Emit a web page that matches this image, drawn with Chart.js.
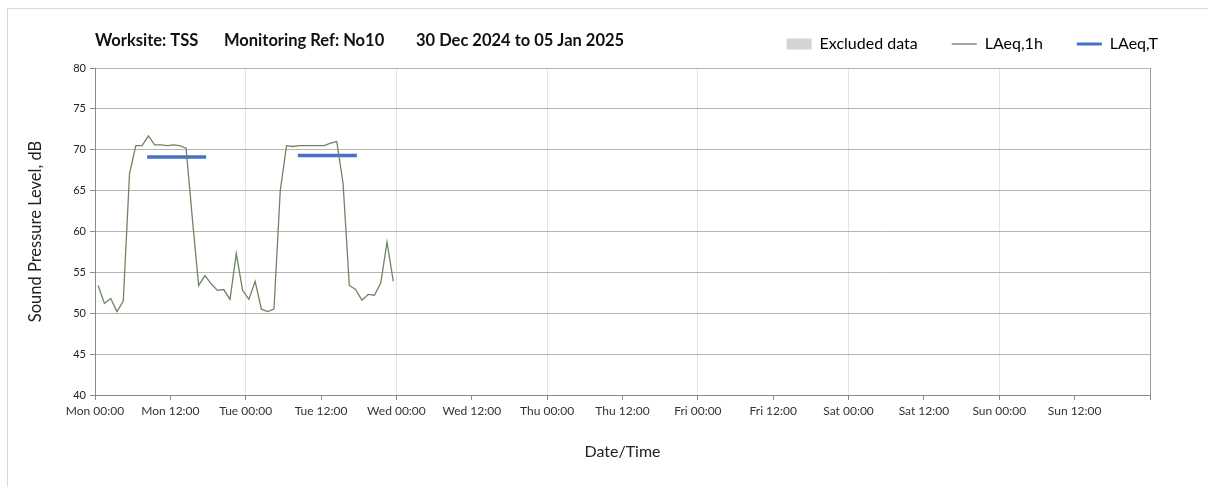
<!DOCTYPE html>
<html>
<head>
<meta charset="utf-8">
<script src="https://cdn.jsdelivr.net/npm/chart.js@4.4.1/dist/chart.umd.min.js"></script>
<style>
  html, body { margin: 0; padding: 0; background: #fff; }
  #wrap { position: relative; width: 1208px; height: 487px; }
  #frame { position: absolute; left: 7px; top: 8px; right: 0; bottom: -2px; border-left: 1px solid #d9d9d9; border-top: 1px solid #d9d9d9; }
  canvas { position: absolute; left: 0; top: 0; }
</style>
</head>
<body>
<div id="wrap">
  <div id="frame"></div>
  <canvas id="myChart" width="1208" height="487"></canvas>
</div>
<script>
// hours since Mon 00:00 (hourly LAeq, plotted at mid-hour)
var hours = [0.5, 1.5, 2.5, 3.5, 4.5, 5.5, 6.5, 7.5, 8.5, 9.5, 10.5, 11.5,
             12.5, 13.5, 14.5, 15.5, 16.5, 17.5, 18.5, 19.5, 20.5, 21.5, 22.5, 23.5,
             24.5, 25.5, 26.5, 27.5, 28.5, 29.5, 30.5, 31.5, 32.5, 33.5, 34.5, 35.5,
             36.5, 37.5, 38.5, 39.5, 40.5, 41.5, 42.5, 43.5, 44.5, 45.5, 46.5, 47.5];
var laeq1h = [53.4, 51.2, 51.8, 50.2, 51.5, 67.1, 70.5, 70.5, 71.7, 70.6, 70.6, 70.5,
              70.6, 70.5, 70.2, 61.6, 53.4, 54.6, 53.6, 52.8, 52.9, 51.7, 57.3, 52.8,
              51.7, 53.9, 50.5, 50.2, 50.5, 65.0, 70.5, 70.4, 70.5, 70.5, 70.5, 70.5,
              70.5, 70.8, 71.0, 65.9, 53.4, 52.9, 51.6, 52.3, 52.2, 53.7, 58.7, 53.9];
// LAeq,T periods (start hour, end hour, level)
var periodStart = [8.3, 32.3];
var periodEnd = [17.7, 41.7];
var laeqT = [69.1, 69.3];

var dayNames = ['Mon', 'Tue', 'Wed', 'Thu', 'Fri', 'Sat', 'Sun'];
var titleParts = ['Worksite: TSS', 'Monitoring Ref: No10', '30 Dec 2024 to 05 Jan 2025'];

var lineData = [];
for (var i = 0; i < hours.length; i++) {
    lineData.push({x: hours[i], y: laeq1h[i]});
}
var periodData = [];
for (var j = 0; j < laeqT.length; j++) {
    if (j > 0) periodData.push({x: periodStart[j] - 1, y: null});
    periodData.push({x: periodStart[j], y: laeqT[j]});
    periodData.push({x: periodEnd[j], y: laeqT[j]});
}

var FONT = 'Lato, "Open Sans", sans-serif';

var titlePlugin = {
    id: 'headTitle',
    afterDraw: function (chart) {
        var ctx = chart.ctx;
        var xs = [95, 224, 416];
        ctx.save();
        ctx.font = 'bold 16.5px ' + FONT;
        ctx.fillStyle = '#111';
        ctx.textBaseline = 'middle';
        for (var k = 0; k < titleParts.length; k++) {
            ctx.fillText(titleParts[k], xs[k], 41);
        }
        ctx.restore();
    }
};

var ctx = document.getElementById('myChart').getContext('2d');
var myChart = new Chart(ctx, {
    type: 'line',
    data: {
        datasets: [{
            label: 'Excluded data',
            data: [],
            backgroundColor: '#d3d3d3'
        }, {
            label: 'LAeq,1h',
            data: lineData,
            borderColor: '#6f8463',
            borderWidth: 1.3,
            pointRadius: 0,
            tension: 0,
            fill: false
        }, {
            label: 'LAeq,T',
            data: periodData,
            borderColor: '#4472C4',
            borderWidth: 3.5,
            pointRadius: 0,
            spanGaps: false,
            fill: false
        }]
    },
    options: {
        responsive: false,
        animation: false,
        layout: { padding: { left: 26, right: 16, top: 2, bottom: 20 } },
        plugins: {
            tooltip: { enabled: false },
            legend: {
                position: 'top',
                align: 'end',
                labels: {
                    usePointStyle: true,
                    pointStyleWidth: 25,
                    boxHeight: 11,
                    padding: 34,
                    color: '#222',
                    font: { family: FONT, size: 16 },
                    generateLabels: function () {
                        return [
                            { text: 'Excluded data', fillStyle: '#d3d3d3', strokeStyle: '#d3d3d3', lineWidth: 0, pointStyle: 'rect', datasetIndex: 0 },
                            { text: 'LAeq,1h', fillStyle: '#3d4f33', strokeStyle: '#3d4f33', lineWidth: 1, pointStyle: 'line', datasetIndex: 1 },
                            { text: 'LAeq,T', fillStyle: '#4472C4', strokeStyle: '#4472C4', lineWidth: 3, pointStyle: 'line', datasetIndex: 2 }
                        ];
                    }
                }
            }
        },
        scales: {
            x: {
                type: 'linear',
                min: 0,
                max: 168,
                afterFit: function (s) { s.height = 72; },
                afterBuildTicks: function (s) {
                    var t = [];
                    for (var h = 0; h <= 168; h += 12) t.push({value: h});
                    s.ticks = t;
                },
                ticks: {
                    color: '#333',
                    font: { family: FONT, size: 12 },
                    maxRotation: 0,
                    autoSkip: false,
                    padding: 4,
                    callback: function (v) {
                        if (v >= 168) return '';
                        var d = dayNames[Math.floor(v / 24)];
                        return d + (v % 24 === 0 ? ' 00:00' : ' 12:00');
                    }
                },
                grid: {
                    color: function (c) {
                        var v = c.tick ? c.tick.value : 0;
                        if (v === 168) return '#9a9a9a';
                        return v % 24 === 0 ? '#e3e3e3' : 'rgba(0,0,0,0)';
                    },
                    tickColor: '#8a8a8a',
                    tickLength: 5,
                    lineWidth: 1
                },
                border: { color: '#8a8a8a' },
                title: {
                    display: true,
                    text: 'Date/Time',
                    color: '#222',
                    font: { family: FONT, size: 16 },
                    padding: { top: 0, bottom: 6 }
                }
            },
            x2: {
                type: 'linear',
                position: 'top',
                display: true,
                afterFit: function (s) { s.height = 6; },
                ticks: { display: false },
                grid: { display: false },
                border: { display: false }
            },
            y: {
                min: 40,
                max: 80,
                afterFit: function (s) { s.width = 69; },
                ticks: {
                    stepSize: 5,
                    color: '#222',
                    font: { family: FONT, size: 11 },
                    padding: 4
                },
                grid: {
                    color: '#b4b4b4',
                    tickColor: '#8a8a8a',
                    tickLength: 5
                },
                border: { color: '#8a8a8a' },
                title: {
                    display: true,
                    text: 'Sound Pressure Level, dB',
                    color: '#222',
                    font: { family: FONT, size: 16.5 },
                    padding: { top: 0, bottom: 4 }
                }
            },
            y2: {
                position: 'right',
                display: true,
                afterFit: function (s) { s.width = 42; },
                ticks: { display: false },
                grid: { display: false },
                border: { display: false }
            }
        }
    },
    plugins: [titlePlugin]
});
</script>
</body>
</html>
